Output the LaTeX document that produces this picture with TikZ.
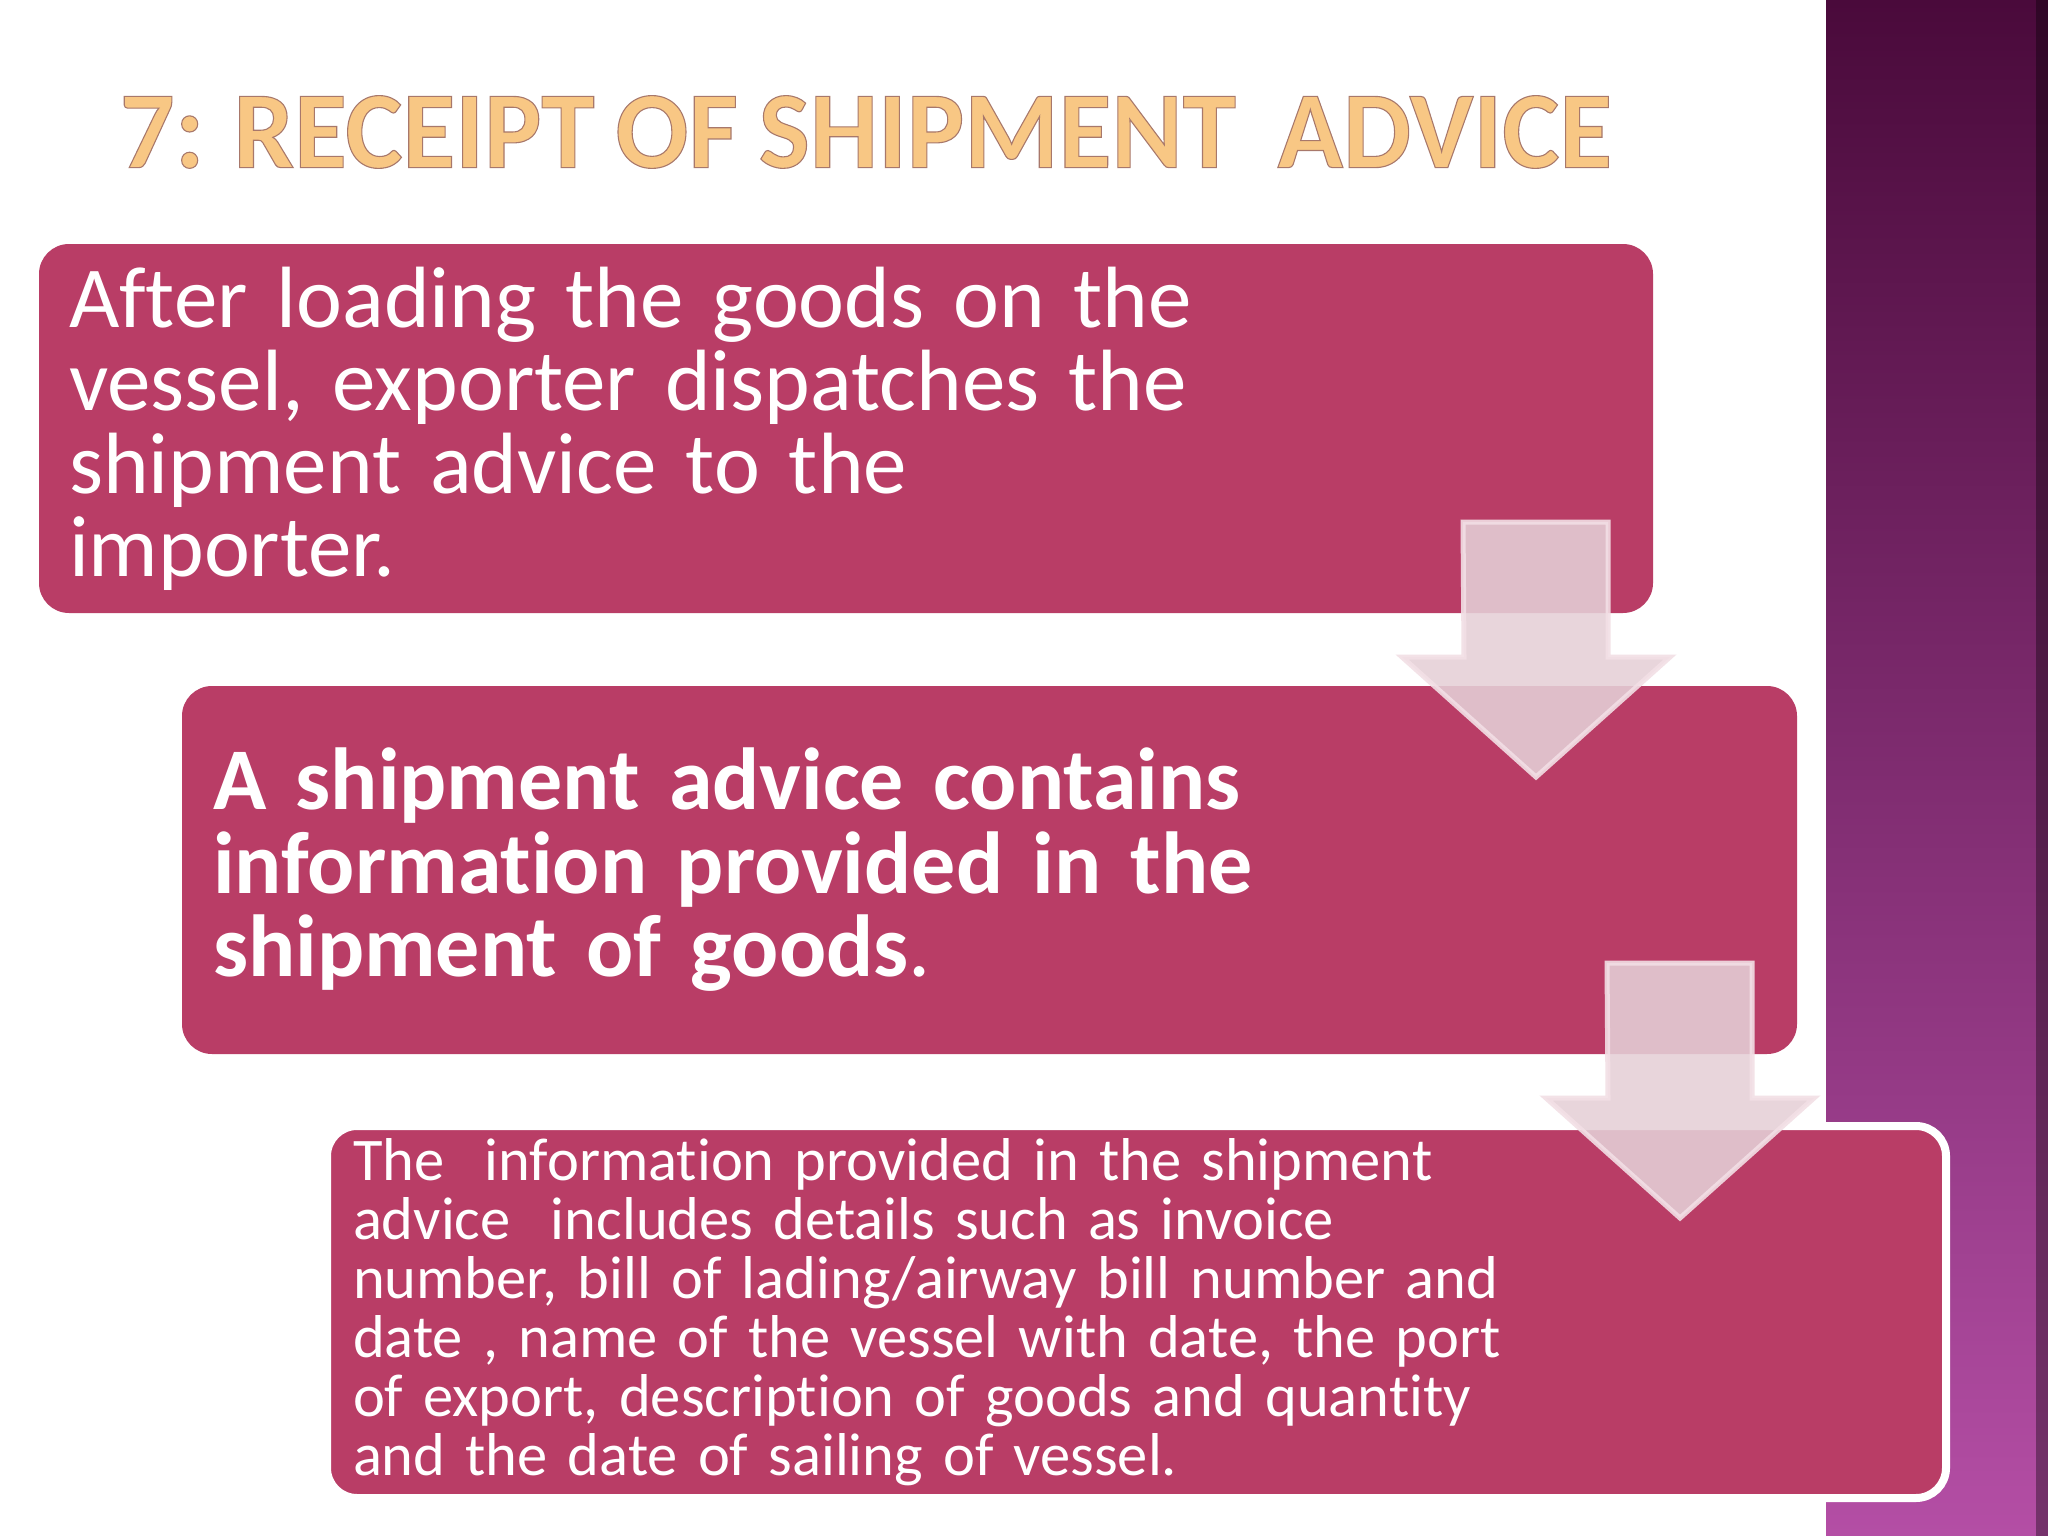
\documentclass[tikz,border=0pt]{standalone}
\usepackage{fontspec}
\setmainfont{Carlito}[Ligatures=NoCommon, WordSpace=0.85]
\usepackage{xcolor}
\usepackage{tikz}
\usetikzlibrary{calc,positioning}

\definecolor{boxmagenta}{HTML}{B93D66}
\definecolor{arrowpink}{HTML}{E5D0D7}
\definecolor{arrowedge}{HTML}{F2DFE5}
\definecolor{bandtop}{HTML}{4A0A3B}
\definecolor{bandmid}{HTML}{8A3478}
\definecolor{bandbot}{HTML}{B44EA5}
\definecolor{titlefill}{HTML}{F8C784}

% thin brown rim round the heading letters
\newcommand{\rimmed}[1]{\special{pdf:literal direct 2 Tr 0.1 w 0.66 0.47 0.42 RG}#1\special{pdf:literal direct 0 Tr}}

\tikzset{
  stepbox/.style={fill=boxmagenta, rounded corners=30pt, text=white, align=left,
    anchor=north west, inner ysep=0pt, outer sep=0pt},
  flowarrow/.style={fill=arrowpink, fill opacity=0.88, draw=arrowedge,
    draw opacity=0.9, line width=5pt, line join=miter},
}

\begin{document}
\begin{tikzpicture}[x=1pt,y=-1pt]
    \useasboundingbox (0,0) rectangle (2048,1536);
    \fill[white] (0,0) rectangle (2048,1536);

    % Side band
    \shade[top color=bandtop, middle color=bandmid, bottom color=bandbot] (1826,0) rectangle (2048,1536);
    \fill[black, opacity=0.35] (2036,0) rectangle (2048,1536);

    % Title
    \node[inner sep=0pt, text=titlefill, font=\bfseries] (title) at (866,132)
        {\resizebox{1492pt}{72pt}{\rimmed{7: RECEIPT OF SHIPMENT\ \ ADVICE}}};

    % Boxes
    \node[stepbox, text width=1554pt, inner xsep=30pt, minimum height=369pt,
        font={\fontsize{87}{83}\selectfont}] (loading) at (39,244)
        {After loading the goods on the\\ vessel, exporter dispatches the\\ shipment advice to the\\ importer.};
    \node[stepbox, text width=1553pt, inner xsep=31pt, minimum height=368pt,
        font={\bfseries\fontsize{88}{83.5}\selectfont}] (contents) at (182,686)
        {A shipment advice contains\\ information provided in the\\ shipment of goods{\mdseries .}};
    \node[stepbox, draw=white, line width=8pt, text width=1567pt, inner xsep=26pt, minimum height=372pt,
        font={\fontsize{60.5}{59}\selectfont}] (details) at (327,1126)
        {The\ \ information provided in the shipment\\ advice\ \ includes details such as invoice\\
         number, bill of lading/airway bill number and\\ date , name of the vessel with date, the port\\
         of export, description of goods and quantity\\ and the date of sailing of vessel.};

    % Arrows between the boxes
    \foreach \b in {loading,contents}
        \draw[flowarrow] ($(\b.south east)+(-190,-91)$) -- ++(145,0) -- ++(0,135) -- ++(62,0)
            -- ++(-134,120) -- ++(-134,-120) -- ++(62,0) -- cycle;
\end{tikzpicture}
\end{document}
